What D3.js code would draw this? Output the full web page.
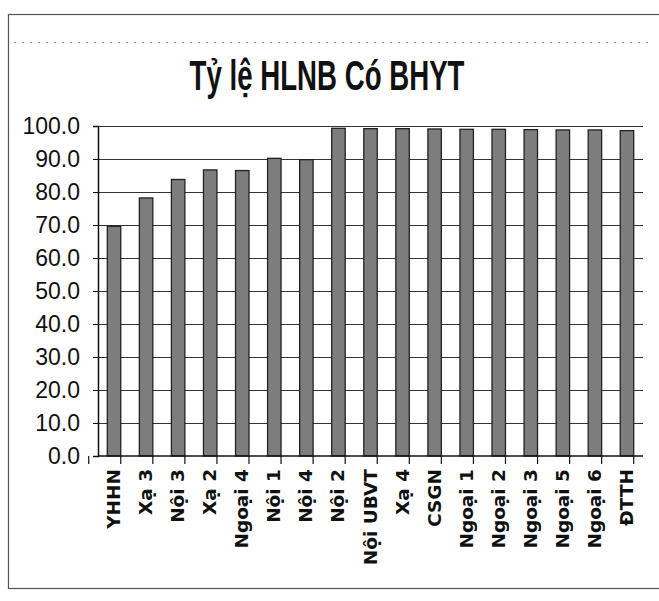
<!DOCTYPE html>
<html>
<head>
<meta charset="utf-8">
<script src="https://cdn.jsdelivr.net/npm/d3@7"></script>
<style>
  body { margin: 0; background: #fff; }
  svg { display: block; }
</style>
</head>
<body>
<div id="chart"></div>
<script>
// data
const categories = ["YHHN", "Xạ 3", "Nội 3", "Xạ 2", "Ngoại 4", "Nội 1", "Nội 4", "Nội 2",
  "Nội UBVT", "Xạ 4", "CSGN", "Ngoại 1", "Ngoại 2", "Ngoại 3", "Ngoại 5", "Ngoại 6", "ĐTTH"];
const values = [69.6, 78.2, 83.8, 86.7, 86.5, 90.2, 89.8, 99.3,
  99.2, 99.2, 99.1, 99.0, 99.0, 98.9, 98.8, 98.8, 98.6];
const yTicks = [0, 10, 20, 30, 40, 50, 60, 70, 80, 90, 100];
const title = "Tỷ lệ HLNB Có BHYT";

const width = 659, height = 601;
const margin = { top: 126, right: 16, bottom: 145, left: 98 };

const svg = d3.select("#chart").append("svg")
  .attr("width", width)
  .attr("height", height);

// outer chart frame (scan edge)
svg.append("rect")
  .attr("x", 8.5).attr("y", 14.5)
  .attr("width", 670).attr("height", 574)
  .attr("fill", "none")
  .attr("stroke", "#555")
  .attr("stroke-width", 1.2);
svg.append("line")
  .attr("x1", 14).attr("x2", 650)
  .attr("y1", 42.5).attr("y2", 42.5)
  .attr("stroke", "#999")
  .attr("stroke-dasharray", "2,6");

svg.append("text")
  .attr("x", 327).attr("y", 90)
  .attr("text-anchor", "middle")
  .attr("font-family", "'Liberation Sans Narrow', 'Liberation Sans', sans-serif")
  .attr("font-weight", "bold")
  .attr("font-size", 43)
  .attr("textLength", 275)
  .attr("lengthAdjust", "spacingAndGlyphs")
  .attr("fill", "#111")
  .text(title);

const x = d3.scaleBand()
  .domain(categories)
  .range([margin.left, width - margin.right])
  .paddingInner(0.58)
  .paddingOuter(0.29);

const y = d3.scaleLinear()
  .domain([0, 100])
  .range([height - margin.bottom, margin.top]);

// gridlines
svg.append("g")
  .selectAll("line")
  .data(yTicks.filter(d => d > 0))
  .join("line")
  .attr("x1", margin.left).attr("x2", width - margin.right)
  .attr("y1", d => Math.round(y(d)) + 0.5).attr("y2", d => Math.round(y(d)) + 0.5)
  .attr("stroke", "#333")
  .attr("stroke-width", 1.2);

// bars
svg.append("g")
  .selectAll("rect")
  .data(values)
  .join("rect")
  .attr("x", (d, i) => x(categories[i]))
  .attr("y", d => y(d))
  .attr("width", x.bandwidth())
  .attr("height", d => y(0) - y(d))
  .attr("fill", "#7d7d7d")
  .attr("stroke", "#222")
  .attr("stroke-width", 1.3);

// y axis
const yAxis = svg.append("g")
  .attr("transform", `translate(${margin.left},0)`)
  .call(d3.axisLeft(y).tickValues(yTicks).tickFormat(d3.format(".1f")).tickSize(5).tickPadding(13));
yAxis.select(".domain").attr("stroke", "#111").attr("stroke-width", 1.5);
yAxis.selectAll(".tick line").attr("stroke", "#111");
yAxis.selectAll("text")
  .attr("font-family", "'Liberation Sans Narrow', 'Liberation Sans', sans-serif")
  .attr("font-size", 23)
  .attr("fill", "#111");

// x axis: ticks between categories, labels rotated
const y0 = y(0);
const xAxis = svg.append("g");
xAxis.append("line")
  .attr("x1", margin.left).attr("x2", width - margin.right)
  .attr("y1", y0).attr("y2", y0)
  .attr("stroke", "#111").attr("stroke-width", 1.5);
const step = x.step();
const bounds = d3.range(categories.length + 1).map(i => x(categories[0]) - x.paddingOuter() * step - x.paddingInner() * step / 2 + i * step);
xAxis.selectAll("line.tk")
  .data(bounds)
  .join("line")
  .attr("class", "tk")
  .attr("x1", d => d).attr("x2", d => d)
  .attr("y1", y0).attr("y2", y0 + 8)
  .attr("stroke", "#111").attr("stroke-width", 1.2);
xAxis.selectAll("text")
  .data(categories)
  .join("text")
  .attr("transform", d => `translate(${x(d) + x.bandwidth() / 2 + 6},${y0 + 13}) rotate(-90)`)
  .attr("text-anchor", "end")
  .attr("font-family", "'DejaVu Sans', sans-serif")
  .attr("font-weight", "bold")
  .attr("font-size", 18.5)
  .attr("fill", "#111")
  .text(d => d);
</script>
</body>
</html>
